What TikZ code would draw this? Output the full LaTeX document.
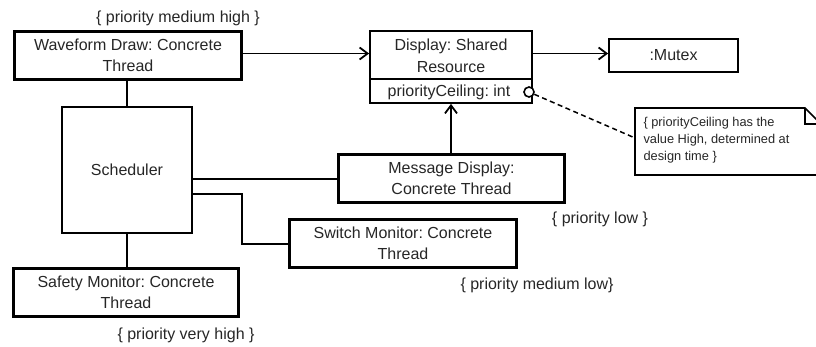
\documentclass[tikz,border=0pt]{standalone}
\usepackage{fontspec}
\setmainfont{Liberation Sans}
\usetikzlibrary{arrows.meta}
\frenchspacing
\begin{document}
\begin{tikzpicture}[x=1pt,y=-1pt,
  txt/.style={font=\fontsize{16}{21.5}\selectfont, text=black!85, align=center},
  thickbox/.style={draw, line width=3.2pt},
  thinbox/.style={draw, line width=1.8pt},
  conn/.style={line width=1.8pt},
  openarrow/.style={-{Straight Barb[length=8pt,width=12pt,line width=1.8pt]}},
  lbl/.style={font=\fontsize{16}{19}\selectfont, text=black!85},
  notetxt/.style={font=\fontsize{12.8}{17}\selectfont, text=black!85, align=left}
]
\useasboundingbox (0,0) rectangle (816,347);
\clip (0,0) rectangle (816,347);

% boxes
\node[thickbox, minimum width=227pt, minimum height=48pt] (wave) at (128,55.5) {};
\node[txt] at (wave.center) {Waveform Draw: Concrete\\Thread};

\node[thinbox, minimum width=162pt, minimum height=72pt] (disp) at (451,67) {};
\coordinate (divL) at (370,79);
\coordinate (divR) at (532,79);
\draw[line width=1.8pt] (divL) -- (divR);
\node[txt] at (451,56) {Display: Shared\\Resource};
\node[txt] (attr) at (449,92) {priorityCeiling: int};

\node[thinbox, minimum width=129pt, minimum height=33pt] (mutex) at (673.5,55.5) {};
\node[txt] at (mutex.center) {:Mutex};

\node[thinbox, minimum width=130pt, minimum height=126pt] (sched) at (127,170) {};
\node[txt] at (127,170) {Scheduler};

\node[thickbox, minimum width=226pt, minimum height=48pt] (msg) at (451.5,178.5) {};
\node[txt] at (msg.center) {Message Display:\\Concrete Thread};

\node[thickbox, minimum width=227pt, minimum height=48pt] (sw) at (403,243.5) {};
\node[txt] at (sw.center) {Switch Monitor: Concrete\\Thread};

\node[thickbox, minimum width=225pt, minimum height=48pt] (safe) at (126,292.5) {};
\node[txt] at (safe.center) {Safety Monitor: Concrete\\Thread};

% labels
\node[lbl] (l1) at (178,18) {\{ priority medium high \}};
\node[lbl] (l2) at (600,219) {\{ priority low \}};
\node[lbl] (l3) at (537,285) {\{ priority medium low\}};
\node[lbl] (l4) at (186,335) {\{ priority very high \}};

% note
\draw[line width=1.6pt] (635,108) -- (805,108) -- (826,129) -- (826,175) -- (635,175) -- cycle;
\draw[line width=1.6pt] (805,108) -- (805,124) -- (826,124);
\coordinate (noteL) at (635,138);
\node[notetxt, anchor=north west] (notet) at (640,114) {\{ priorityCeiling has the\\value High, determined at\\design time \}};

% circle on attribute
\node[circle, draw, line width=1.6pt, minimum size=10pt, inner sep=0pt, fill=white] (circ) at (529,92) {};

% connectors
\draw[conn, openarrow] (wave.east |- 0,53.5) -- (disp.west |- 0,53.5);
\draw[conn, openarrow] (disp.east |- 0,53.5) -- (mutex.west |- 0,53.5);
\draw[conn] (wave.south -| 127,0) -- (sched.north);
\draw[conn] (sched.south) -- (safe.north -| 127,0);
\draw[conn] (sched.east |- 0,179) -- (msg.west |- 0,179);
\draw[conn] (sched.east |- 0,194) -- (242,194) -- (242,244) -- (sw.west |- 0,244);
\draw[conn, openarrow] (msg.north -| 451,0) -- (disp.south -| 451,0);
\draw[line width=1.5pt, dash pattern=on 5pt off 3.5pt] (circ) -- (noteL);
\end{tikzpicture}
\end{document}
